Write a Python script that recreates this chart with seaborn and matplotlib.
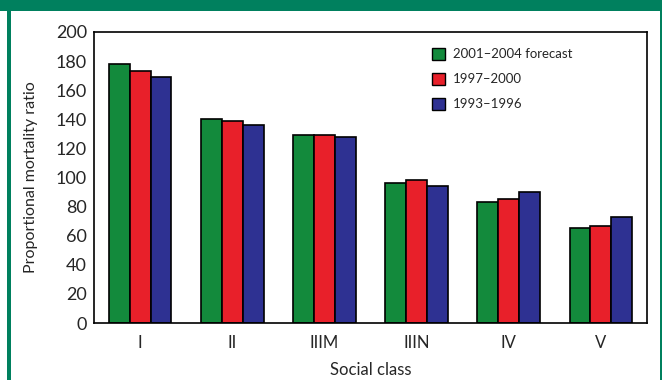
import matplotlib
matplotlib.use("Agg")
import matplotlib.pyplot as plt
import seaborn as sns
import pandas as pd
from matplotlib.patches import Rectangle

categories = ["I", "II", "IIIM", "IIIN", "IV", "V"]
series = ["2001\u20132004 forecast", "1997\u20132000", "1993\u20131996"]
forecast_2001_2004 = [178, 140, 129, 96, 83, 65]
period_1997_2000 = [173, 139, 129, 98, 85, 67]
period_1993_1996 = [169, 136, 128, 94, 90, 73]
colors = ["#138a3c", "#e8202a", "#2e3192"]
yticks = [0, 20, 40, 60, 80, 100, 120, 140, 160, 180, 200]

rows = []
for name, vals in zip(series, [forecast_2001_2004, period_1997_2000, period_1993_1996]):
    for c, v in zip(categories, vals):
        rows.append({"Social class": c, "Period": name, "Value": v})
df = pd.DataFrame(rows)

sns.set_theme(style="white")
plt.rcParams["font.family"] = ["Lato", "DejaVu Sans"]

W, H = 662, 380
fig = plt.figure(figsize=(W / 100, H / 100), dpi=100)
fig.patch.set_facecolor("white")
ax = fig.add_axes([94 / W, 1 - 323 / H, (647 - 94) / W, (323 - 32) / H])

sns.barplot(data=df, x="Social class", y="Value", hue="Period", order=categories,
            hue_order=series, palette=colors, width=0.68, edgecolor="black",
            linewidth=1.2, saturation=1, ax=ax, dodge=True)

ax.set_ylim(0, 200)
ax.set_xlim(-0.5, 5.5)
ax.set_yticks(yticks)
ax.set_yticklabels([str(t) for t in yticks], fontsize=13)
ax.set_xticks(range(len(categories)))
ax.set_xticklabels(categories, fontsize=12)
ax.set_xticks([i + 0.5 for i in range(-1, 6)], minor=True)
ax.tick_params(axis="x", which="major", length=0, pad=9)
ax.tick_params(axis="x", which="minor", length=3, width=1, direction="out", color="black")
ax.tick_params(axis="y", length=4, width=1, direction="out", color="black", pad=1)
ax.set_ylabel("Proportional mortality ratio", fontsize=11.5, va="center")
ax.yaxis.set_label_coords((31 - 94) / 553, 0.5)
ax.set_xlabel("Social class", fontsize=12, va="center")
ax.xaxis.set_label_coords(0.5, -(370 - 323) / 291)
for s in ax.spines.values():
    s.set_color("black")
    s.set_linewidth(1.2)

leg = ax.legend(loc="upper left", bbox_to_anchor=((432 - 94) / 553, (323 - 48) / 291),
                frameon=False, fontsize=9.5, handlelength=1.0, handleheight=1.0,
                handletextpad=0.6, labelspacing=0.95, borderpad=0, borderaxespad=0)
for h in leg.legend_handles:
    h.set_edgecolor("black")
    h.set_linewidth(1)

frame = "#00805e"
fig.patches.append(Rectangle((0, 1 - 11 / H), 1, 11 / H, transform=fig.transFigure,
                             facecolor=frame, edgecolor="none", zorder=10))
fig.patches.append(Rectangle((7 / W, 0), 4 / W, 1, transform=fig.transFigure,
                             facecolor=frame, edgecolor="none", zorder=10))
fig.patches.append(Rectangle((660 / W, 0), 2 / W, 1, transform=fig.transFigure,
                             facecolor=frame, edgecolor="none", zorder=10))

fig.savefig("out.png", dpi=100)
